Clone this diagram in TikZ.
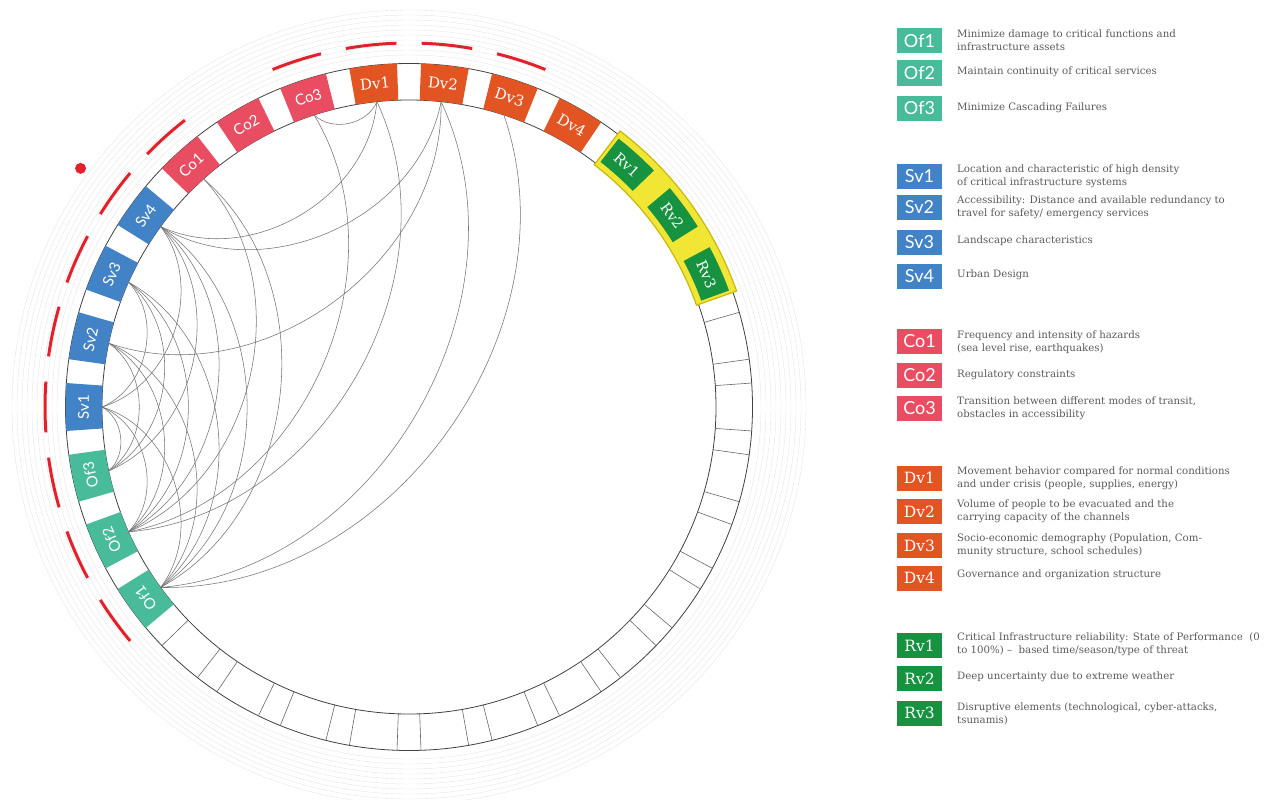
\documentclass[tikz,border=0pt]{standalone}
\usepackage{fontspec}
\setmainfont{DejaVu Serif}
\newfontfamily\slotsans{Lato}
\newfontfamily\slotserif{DejaVu Serif}

\definecolor{ofcol}{HTML}{48BB9B}
\definecolor{svcol}{HTML}{4282C6}
\definecolor{cocol}{HTML}{E84D62}
\definecolor{dvcol}{HTML}{E25523}
\definecolor{rvcol}{HTML}{169240}
\definecolor{hilite}{HTML}{F2E634}
\definecolor{hiliteedge}{HTML}{C9B80C}
\definecolor{redmark}{HTML}{E4202A}
\definecolor{legtextcol}{HTML}{5A5A5A}

\begin{document}
\begin{tikzpicture}[x=1pt, y=1pt,
  ring/.style={black!75, line width=0.8pt},
  cell/.style={black!60, line width=0.6pt},
  grid/.style={black!10, line width=0.4pt},
  chord/.style={black!55, line width=0.55pt, bend right=55},
  redarc/.style={redmark, line width=3pt},
  slotlabel/.style={text=white, inner sep=0pt},
  legbox/.style={minimum width=45pt, minimum height=25pt, inner sep=0pt, text=white,
    font=\slotsans\fontsize{18}{18}\selectfont},
  legboxserif/.style={legbox, font=\slotserif\fontsize{15.5}{15.5}\selectfont},
  legtext/.style={anchor=west, align=left, text=legtextcol, inner sep=0pt,
    font=\fontsize{10.2}{13}\selectfont}]
  \useasboundingbox (0,0) rectangle (1271,-800);

  \begin{scope}[shift={(409,-407)}]
    % faint outer grid
    \foreach \r in {352,357,...,397}
      \draw[grid] (0,0) circle[radius=\r];
    \foreach \a in {24,36,...,216}
      \draw[grid, densely dotted] (\a-4:347) -- (\a-4:400) (\a+4:347) -- (\a+4:400);

    % red marks outside the ring
    \foreach \a in {72,84,96,108,132,144,156,168,180,192,204,216}
      \draw[redarc] (\a+4:364) arc[start angle=\a+4, end angle=\a-4, radius=364];
    \fill[redmark] (144:406) circle[radius=5.5];

    % ring
    \draw[ring] (0,0) circle[radius=307];
    \draw[ring] (0,0) circle[radius=343.5];

    % empty cells
    \foreach \a in {12,0,...,-132}
      \draw[cell] (\a-4:307) -- (\a-4:343.5) (\a+4:307) -- (\a+4:343.5);

    % highlighted group
    \filldraw[fill=hilite, draw=hiliteedge, line width=1.2pt]
      (19.5:305) -- (19.5:347.5) arc[start angle=19.5, end angle=52.6, radius=347.5]
      -- (52.6:305) arc[start angle=52.6, end angle=19.5, radius=305] -- cycle;

    % labelled cells
    \foreach \n/\a/\c/\f in {Of1/216/ofcol/\slotsans, Of2/204/ofcol/\slotsans, Of3/192/ofcol/\slotsans,
        Sv1/180/svcol/\slotsans, Sv2/168/svcol/\slotsans, Sv3/156/svcol/\slotsans, Sv4/144/svcol/\slotsans,
        Co1/132/cocol/\slotsans, Co2/120/cocol/\slotsans, Co3/108/cocol/\slotsans,
        Dv1/96/dvcol/\slotserif, Dv2/84/dvcol/\slotserif, Dv3/72/dvcol/\slotserif, Dv4/60/dvcol/\slotserif}{
      \fill[\c] (\a-4:307) -- (\a-4:343.5) arc[start angle=\a-4, end angle=\a+4, radius=343.5]
        -- (\a+4:307) arc[start angle=\a+4, end angle=\a-4, radius=307] -- cycle;
      \node[slotlabel, font=\f\fontsize{15}{15}\selectfont, rotate=\a-90] (\n) at (\a:325.5) {\n};
      \coordinate (\n-in) at (\a:307);
    }
    \foreach \n/\a in {Rv1/48, Rv2/36, Rv3/24}{
      \fill[rvcol] (\a-4:311) -- (\a-4:340.5) arc[start angle=\a-4, end angle=\a+4, radius=340.5]
        -- (\a+4:311) arc[start angle=\a+4, end angle=\a-4, radius=311] -- cycle;
      \node[slotlabel, font=\slotserif\fontsize{14.5}{14.5}\selectfont, rotate=\a-90] (\n) at (\a:325.5) {\n};
      \coordinate (\n-in) at (\a:307);
    }

    % links
    \foreach \p/\q in {Of1/Dv3, Of1/Dv2, Of1/Co1, Of1/Sv4, Of1/Sv3, Of1/Sv2, Of1/Sv1,
        Of2/Dv1, Of2/Co3, Of2/Co1, Of2/Sv4, Of2/Sv3, Of2/Sv2, Of2/Sv1,
        Of3/Sv4, Of3/Sv3, Of3/Sv2, Of3/Sv1,
        Sv1/Sv4, Sv1/Sv3, Sv2/Dv2, Sv4/Dv1, Sv4/Dv2, Co3/Dv1}
      \draw[chord] (\p-in) to (\q-in);
  \end{scope}

  % legend: objectives
  \node[legbox, fill=ofcol] (legOf1) at (919.5,-41) {Of1};
  \node[legtext] (txtOf1) at (957,-40.5) {Minimize damage to critical functions and\\infrastructure assets};
  \node[legbox, fill=ofcol] (legOf2) at (919.5,-73) {Of2};
  \node[legtext] (txtOf2) at (957,-72) {Maintain continuity of critical services};
  \node[legbox, fill=ofcol] (legOf3) at (919.5,-108) {Of3};
  \node[legtext] (txtOf3) at (957,-108) {Minimize Cascading Failures};

  % legend: Sv
  \node[legbox, fill=svcol] (legSv1) at (919.5,-176) {Sv1};
  \node[legtext] (txtSv1) at (957,-176.5) {Location and characteristic of high density\\of critical infrastructure systems};
  \node[legbox, fill=svcol] (legSv2) at (919.5,-207.5) {Sv2};
  \node[legtext] (txtSv2) at (957,-207.5) {Accessibility: Distance and available redundancy to\\travel for safety/ emergency services};
  \node[legbox, fill=svcol] (legSv3) at (919.5,-242) {Sv3};
  \node[legtext] (txtSv3) at (957,-241) {Landscape characteristics};
  \node[legbox, fill=svcol] (legSv4) at (919.5,-276) {Sv4};
  \node[legtext] (txtSv4) at (957,-275) {Urban Design};

  % legend: Co
  \node[legbox, fill=cocol] (legCo1) at (919.5,-341.5) {Co1};
  \node[legtext] (txtCo1) at (957,-342) {Frequency and intensity of hazards\\(sea level rise, earthquakes)};
  \node[legbox, fill=cocol] (legCo2) at (919.5,-375) {Co2};
  \node[legtext] (txtCo2) at (957,-375) {Regulatory constraints};
  \node[legbox, fill=cocol] (legCo3) at (919.5,-408) {Co3};
  \node[legtext] (txtCo3) at (957,-408.5) {Transition between different modes of transit,\\obstacles in accessibility};

  % legend: Dv
  \node[legboxserif, fill=dvcol] (legDv1) at (919.5,-478) {Dv1};
  \node[legtext] (txtDv1) at (957,-478.5) {Movement behavior compared for normal conditions\\and under crisis (people, supplies, energy)};
  \node[legboxserif, fill=dvcol] (legDv2) at (919.5,-511.5) {Dv2};
  \node[legtext] (txtDv2) at (957,-511.5) {Volume of people to be evacuated and the\\carrying capacity of the channels};
  \node[legboxserif, fill=dvcol] (legDv3) at (919.5,-545.5) {Dv3};
  \node[legtext] (txtDv3) at (957,-545.5) {Socio-economic demography (Population, Com-\\munity structure, school schedules)};
  \node[legboxserif, fill=dvcol] (legDv4) at (919.5,-578) {Dv4};
  \node[legtext] (txtDv4) at (957,-575) {Governance and organization structure};

  % legend: Rv
  \node[legboxserif, fill=rvcol] (legRv1) at (919.5,-645.5) {Rv1};
  \node[legtext] (txtRv1) at (957,-644.5) {Critical Infrastructure reliability: State of Performance\ \ (0\\to 100\%) --\ \ based time/season/type of threat};
  \node[legboxserif, fill=rvcol] (legRv2) at (919.5,-678.5) {Rv2};
  \node[legtext] (txtRv2) at (957,-677) {Deep uncertainty due to extreme weather};
  \node[legboxserif, fill=rvcol] (legRv3) at (919.5,-713) {Rv3};
  \node[legtext] (txtRv3) at (957,-713.5) {Disruptive elements (technological, cyber-attacks,\\tsunamis)};
\end{tikzpicture}
\end{document}
